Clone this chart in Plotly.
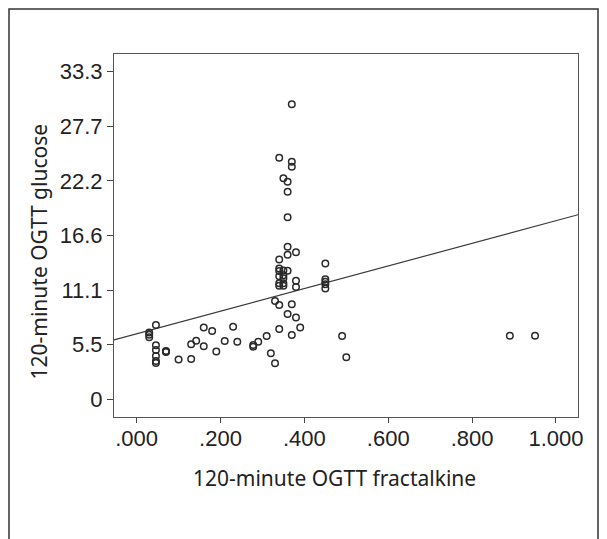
import plotly.graph_objects as go
import numpy as np

# Data
fractalkine = [0.030, 0.030, 0.030,
               0.046, 0.046, 0.046, 0.046, 0.046, 0.046,
               0.070, 0.070, 0.070,
               0.100, 0.130, 0.130, 0.142, 0.160, 0.160, 0.180, 0.190,
               0.210, 0.230, 0.240, 0.278, 0.278, 0.290, 0.310, 0.320,
               0.330, 0.330,
               0.340, 0.340, 0.340, 0.340, 0.340, 0.340, 0.340, 0.340, 0.340,
               0.350, 0.350, 0.350, 0.350, 0.350, 0.350,
               0.360, 0.360, 0.360, 0.360, 0.360, 0.360, 0.360,
               0.370, 0.370, 0.370, 0.370, 0.370,
               0.380, 0.380, 0.380, 0.380,
               0.390,
               0.450, 0.450, 0.450, 0.450, 0.450,
               0.490, 0.500, 0.890, 0.950]
glucose = [6.80, 6.55, 6.30,
           7.55, 5.50, 5.00, 4.40, 3.90, 3.70,
           4.90, 4.80, 4.85,
           4.05, 4.10, 5.60, 5.95, 7.30, 5.40, 6.95, 4.85,
           5.92, 7.38, 5.85, 5.52, 5.35, 5.85, 6.43, 4.67,
           3.66, 10.00,
           9.58, 7.14, 24.55, 14.20, 13.30, 13.05, 12.50, 11.80, 11.55,
           22.46, 13.10, 12.60, 12.30, 11.80, 11.55,
           22.10, 21.10, 18.50, 15.50, 14.70, 13.07, 8.67,
           29.98, 24.15, 23.64, 9.65, 6.53,
           14.94, 12.05, 11.40, 8.30,
           7.30,
           13.80, 12.20, 11.95, 11.70, 11.27,
           6.43, 4.27, 6.46, 6.46]

# Fit line as drawn in the reference
reg_intercept = 6.65
reg_slope = 11.5

y_tick_values = [0, 5.55, 11.1, 16.65, 22.2, 27.75, 33.3]
y_tick_labels = ["0", "5.5", "11.1", "16.6", "22.2", "27.7", "33.3"]
x_tick_values = [0.0, 0.2, 0.4, 0.6, 0.8, 1.0]
x_tick_labels = [".000", ".200", ".400", ".600", ".800", "1.000"]

x_title = "120-minute OGTT fractalkine"
y_title = "120-minute OGTT glucose"

x_range = [-0.054, 1.0525]
y_range = [-1.80, 35.09]

line_x = np.array(x_range)
line_y = reg_intercept + reg_slope * line_x

fig = go.Figure()
fig.add_trace(go.Scatter(
    x=line_x, y=line_y, mode="lines",
    line=dict(color="#3a3a3a", width=1.2),
    hoverinfo="skip", showlegend=False,
))
fig.add_trace(go.Scatter(
    x=fractalkine, y=glucose, mode="markers",
    marker=dict(symbol="circle-open", size=6.5, color="#2a2a2a",
                line=dict(width=1.5, color="#2a2a2a")),
    showlegend=False,
))

tick_font = dict(family="Liberation Sans, Arial, sans-serif", size=22, color="#222222")
title_font = dict(family="Noto Sans, sans-serif", size=21, color="#222222")

# The page body has an 8px margin, so the figure is 8px smaller than the window
W, H = 599, 531
L, T, PW, PH = 106, 46, 464, 363

fig.update_layout(
    width=W, height=H,
    margin=dict(l=L, r=W - L - PW, t=T, b=H - T - PH),
    paper_bgcolor="white", plot_bgcolor="white",
    showlegend=False,
    xaxis=dict(
        range=x_range, tickvals=x_tick_values, ticktext=x_tick_labels,
        ticks="outside", ticklen=5, tickwidth=1, tickcolor="#444444",
        showline=True, linecolor="#555555", linewidth=1, mirror=True,
        showgrid=False, zeroline=False, tickfont=tick_font,
        ticklabelstandoff=-3,
    ),
    yaxis=dict(
        range=y_range, tickvals=y_tick_values, ticktext=y_tick_labels,
        ticks="outside", ticklen=6, tickwidth=1, tickcolor="#444444",
        showline=True, linecolor="#555555", linewidth=1, mirror=True,
        showgrid=False, zeroline=False, tickfont=tick_font,
    ),
    annotations=[
        dict(text=x_title, xref="paper", yref="paper",
             x=(326.5 - L) / PW, y=(T + PH - 470) / PH,
             xanchor="center", yanchor="middle", showarrow=False, font=title_font),
        dict(text=y_title, xref="paper", yref="paper", textangle=-90,
             x=(30.5 - L) / PW, y=(T + PH - 244) / PH,
             xanchor="center", yanchor="middle", showarrow=False, font=title_font),
    ],
    shapes=[dict(
        type="rect", xref="paper", yref="paper",
        x0=(1 - L) / PW, x1=(590 - L) / PW,
        y0=(T + PH - 560) / PH, y1=(T + PH - 1) / PH,
        line=dict(color="#333333", width=1.5), fillcolor="rgba(0,0,0,0)",
        layer="below",
    )],
)

fig.write_html("out.html")
